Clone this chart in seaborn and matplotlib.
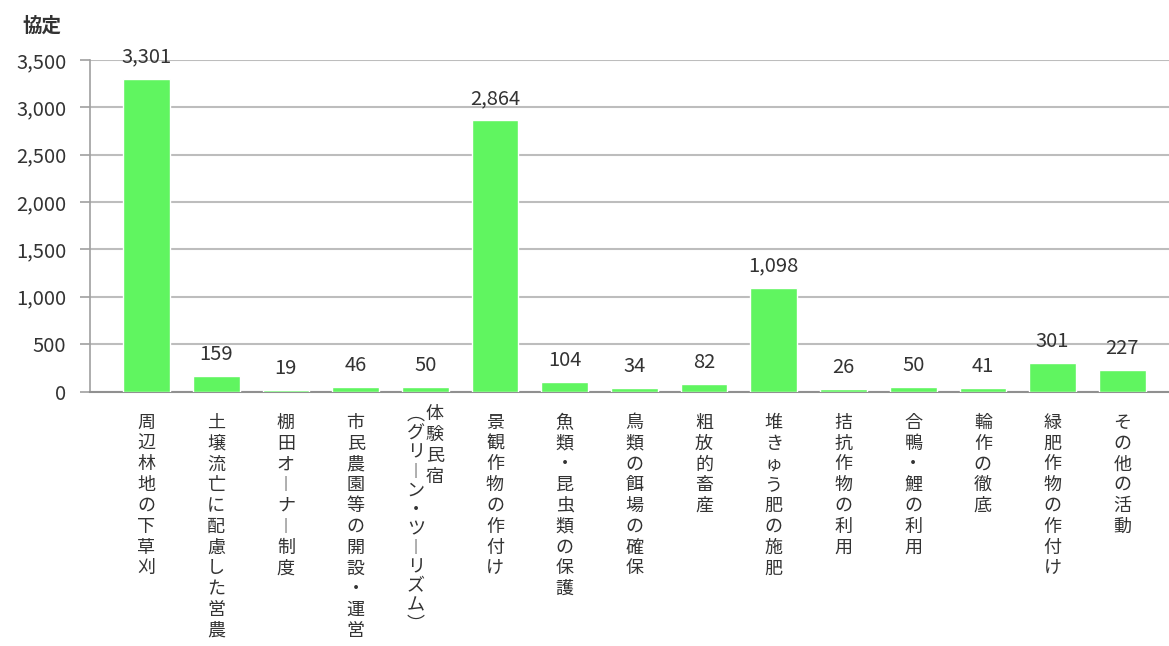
import matplotlib
matplotlib.use("Agg")
import matplotlib.pyplot as plt
import seaborn as sns
import pandas as pd
from matplotlib.ticker import FuncFormatter, MultipleLocator

# Activities and number of agreements
categories = [
    "周辺林地の下草刈",
    "土壌流亡に配慮した営農",
    "棚田オーナー制度",
    "市民農園等の開設・運営",
    "体験民宿\n（グリーン・ツーリズム）",
    "景観作物の作付け",
    "魚類・昆虫類の保護",
    "鳥類の餌場の確保",
    "粗放的畜産",
    "堆きゅう肥の施肥",
    "拮抗作物の利用",
    "合鴨・鯉の利用",
    "輪作の徹底",
    "緑肥作物の作付け",
    "その他の活動",
]
values = [3301, 159, 19, 46, 50, 2864, 104, 34, 82, 1098, 26, 50, 41, 301, 227]
y_unit = "協定"

sns.set_theme(style="white")
plt.rcParams["font.family"] = ["Noto Sans CJK JP", "DejaVu Sans"]

TEXT = "#333333"
GRID = "#BDBDBD"
BAR = "#60F560"
LABEL_SIZE = 13
LINESP = 1.2
PAD = 10  # points between axis line and category labels

# Vertical (tategaki) forms for characters that turn in vertical writing
VERT = {"ー": "︱", "（": "︵", "）": "︶"}


def stack(text):
    return "\n".join(VERT.get(c, c) for c in text)


df = pd.DataFrame({"activity": categories, "count": values})

fig = plt.figure(figsize=(11.69, 6.46), dpi=100)
ax = fig.add_axes([90 / 1169, 1 - 391.5 / 646, (1169 - 90) / 1169, (391.5 - 60) / 646])

sns.barplot(data=df, x="activity", y="count", color=BAR, width=0.67,
            saturation=1, ax=ax, zorder=3)

ax.set_ylim(0, 3500)
ax.set_xlim(-0.81, 14.67)
ax.yaxis.set_major_locator(MultipleLocator(500))
ax.yaxis.set_major_formatter(FuncFormatter(lambda v, p: f"{int(v):,}"))
ax.grid(axis="y", color=GRID, linewidth=1.5, zorder=0)
ax.set_axisbelow(True)

for side in ["top", "right"]:
    ax.spines[side].set_visible(False)
ax.spines["left"].set_color("#A0A0A0")
ax.spines["left"].set_linewidth(1.2)
ax.spines["bottom"].set_color("#909090")
ax.spines["bottom"].set_linewidth(1.5)

ax.tick_params(axis="y", which="major", left=True, length=7, width=1.2,
               color="#A0A0A0", labelsize=14.5, labelcolor=TEXT, pad=10)
ax.tick_params(axis="x", bottom=False, pad=PAD)

# Category labels written vertically; two-line labels become two columns
tick_labels = []
for i, cat in enumerate(categories):
    cols = cat.split("\n")
    if len(cols) == 1:
        tick_labels.append(stack(cat))
        continue
    tick_labels.append("")
    for k, col in enumerate(cols):
        dx = 6.8 if k == 0 else -6.8  # first column on the right
        ax.annotate(stack(col), xy=(i, 0), xycoords=("data", "axes fraction"),
                    xytext=(dx, -PAD), textcoords="offset points",
                    ha="center", va="top", fontsize=LABEL_SIZE, color=TEXT,
                    linespacing=LINESP if k == 0 else 1.08,
                    annotation_clip=False)

ax.set_xticks(range(len(categories)))
ax.set_xticklabels(tick_labels, fontsize=LABEL_SIZE, color=TEXT,
                   linespacing=LINESP, va="top")
ax.set_xlabel("")
ax.set_ylabel("")

ax.bar_label(ax.containers[0], labels=[f"{v:,}" for v in values],
             padding=8, fontsize=14.5, color=TEXT)

fig.text(22 / 1169, 1 - 26 / 646, y_unit, fontsize=14, color=TEXT,
         ha="left", va="center", fontweight="bold")

fig.savefig("out.png", dpi=100, facecolor="white")
